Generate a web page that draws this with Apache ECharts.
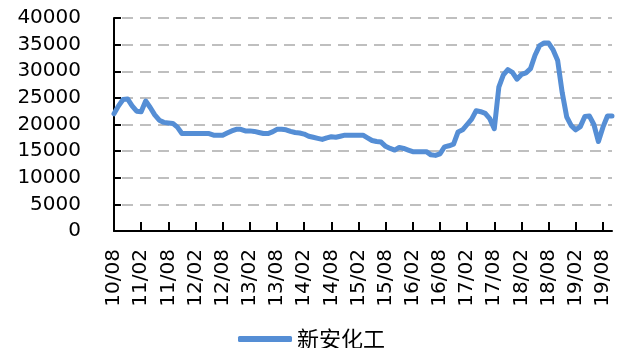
<!DOCTYPE html>
<html>
<head>
<meta charset="utf-8">
<script src="https://cdn.jsdelivr.net/npm/echarts@6/dist/echarts.min.js"></script>
<style>html,body{margin:0;padding:0;background:#fff}#c{width:624px;height:348px}</style>
</head>
<body>
<div id="c"></div>
<script>
var categories = [
 "10/08","10/09","10/10","10/11","10/12",
 "11/01","11/02","11/03","11/04","11/05","11/06","11/07","11/08","11/09","11/10","11/11","11/12",
 "12/01","12/02","12/03","12/04","12/05","12/06","12/07","12/08","12/09","12/10","12/11","12/12",
 "13/01","13/02","13/03","13/04","13/05","13/06","13/07","13/08","13/09","13/10","13/11","13/12",
 "14/01","14/02","14/03","14/04","14/05","14/06","14/07","14/08","14/09","14/10","14/11","14/12",
 "15/01","15/02","15/03","15/04","15/05","15/06","15/07","15/08","15/09","15/10","15/11","15/12",
 "16/01","16/02","16/03","16/04","16/05","16/06","16/07","16/08","16/09","16/10","16/11","16/12",
 "17/01","17/02","17/03","17/04","17/05","17/06","17/07","17/08","17/09","17/10","17/11","17/12",
 "18/01","18/02","18/03","18/04","18/05","18/06","18/07","18/08","18/09","18/10","18/11","18/12",
 "19/01","19/02","19/03","19/04","19/05","19/06","19/07","19/08","19/09","19/10"
];
var seriesName = "新安化工";
var values = [
 22000,23500,24700,24800,23500,22500,22400,24400,23200,21800,
 20800,20400,20300,20200,19500,18300,18300,18300,18300,18300,
 18300,18300,18000,18000,18000,18400,18800,19100,19100,18800,
 18800,18700,18500,18300,18300,18600,19100,19100,19000,18700,
 18500,18400,18200,17800,17600,17400,17200,17500,17700,17600,
 17800,18000,18000,18000,18000,18000,17500,17000,16800,16700,
 15900,15500,15200,15700,15500,15200,14900,14900,14900,14900,
 14300,14200,14500,15800,16000,16300,18600,19000,20000,21000,
 22600,22400,22100,21100,19200,27000,29300,30300,29800,28500,
 29400,29700,30500,33000,34800,35300,35300,34000,32000,26000,
 21400,19800,19000,19600,21500,21600,20000,16800,19500,21600,
 21600
];
var yMin = 0, yMax = 40000, yStep = 5000;

var chart = echarts.init(document.getElementById('c'), null, {renderer: 'canvas'});
chart.setOption({
  animation: false,
  backgroundColor: '#ffffff',
  grid: {left: 114, right: 12, top: 18, bottom: 117, containLabel: false},
  legend: {
    data: [seriesName],
    left: 233, top: 323,
    icon: 'roundRect',
    itemWidth: 54, itemHeight: 6,
    itemGap: 10,
    textStyle: {fontFamily: 'Noto Sans CJK SC', fontSize: 22, color: '#000'}
  },
  xAxis: {
    type: 'category',
    data: categories,
    boundaryGap: false,
    axisLine: {show: true, lineStyle: {color: '#000', width: 2}},
    axisTick: {show: true, inside: true, length: 9, interval: 5, lineStyle: {color: '#000', width: 2}},
    axisLabel: {interval: 5, rotate: 90, margin: 18, fontFamily: 'DejaVu Sans', fontSize: 20, color: '#000'},
    splitLine: {show: false}
  },
  yAxis: {
    type: 'value',
    min: yMin, max: yMax, interval: yStep,
    axisLine: {show: true, lineStyle: {color: '#000', width: 2}},
    axisTick: {show: true, inside: true, length: 7, lineStyle: {color: '#000', width: 2}},
    axisLabel: {margin: 33, fontFamily: 'DejaVu Sans', fontSize: 20, color: '#000',
      formatter: function (v) { return String(v); }},
    splitLine: {show: true, lineStyle: {color: '#bfbfbf', width: 2, type: [11, 7], dashOffset: -8}}
  },
  series: [{
    name: seriesName,
    type: 'line',
    data: values,
    symbol: 'none',
    smooth: false,
    lineStyle: {color: '#558ed5', width: 5, join: 'round', cap: 'round'},
    itemStyle: {color: '#558ed5'}
  }]
});
</script>
</body>
</html>
